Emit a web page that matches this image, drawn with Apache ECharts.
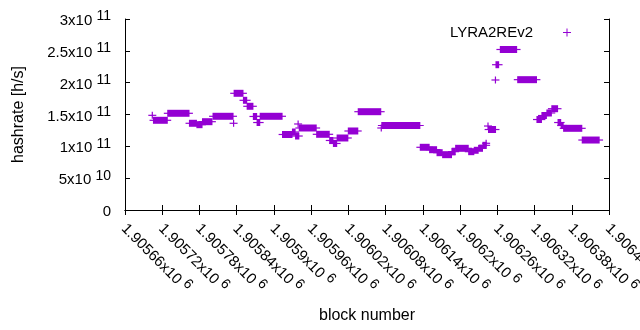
<!DOCTYPE html>
<html>
<head>
<meta charset="utf-8">
<script src="https://cdn.jsdelivr.net/npm/echarts@6/dist/echarts.min.js"></script>
<style>
    html, body { margin: 0; padding: 0; background: #fff; }
    #chart { width: 640px; height: 330px; }
</style>
</head>
<body>
<div id="chart"></div>
<script>
// block ranges, each with one hashrate value (h/s)
var segStart = [1905704, 1905706, 1905729, 1905764, 1905776, 1905785, 1905802, 1905835, 1905836, 1905851,
    1905857, 1905867, 1905873, 1905878, 1905914, 1905930, 1905935, 1905939, 1905941, 1905969,
    1905990, 1905996, 1906002, 1906020, 1906036, 1906073, 1906074, 1906136, 1906151, 1906163,
    1906172, 1906187, 1906193, 1906214, 1906223, 1906230, 1906237, 1906242, 1906245, 1906246,
    1906257, 1906258, 1906265, 1906293, 1906324, 1906332, 1906340, 1906348, 1906358, 1906363,
    1906367, 1906397];
var segEnd = [1905704, 1905728, 1905763, 1905775, 1905784, 1905800, 1905834, 1905835, 1905850, 1905856,
    1905866, 1905872, 1905877, 1905913, 1905929, 1905934, 1905940, 1905939, 1905968, 1905989,
    1905995, 1906001, 1906019, 1906035, 1906072, 1906073, 1906135, 1906150, 1906162, 1906171,
    1906186, 1906192, 1906213, 1906222, 1906229, 1906236, 1906242, 1906242, 1906245, 1906257,
    1906257, 1906262, 1906291, 1906323, 1906331, 1906339, 1906347, 1906357, 1906362, 1906366,
    1906396, 1906424];
var segHash = [1.487e11, 1.409e11, 1.519e11, 1.362e11, 1.340e11, 1.387e11, 1.472e11, 1.362e11, 1.833e11, 1.723e11,
    1.629e11, 1.469e11, 1.374e11, 1.472e11, 1.186e11, 1.225e11, 1.162e11, 1.351e11, 1.288e11, 1.189e11,
    1.092e11, 1.045e11, 1.131e11, 1.241e11, 1.544e11, 1.288e11, 1.327e11, 0.985e11, 0.947e11, 0.900e11,
    0.869e11, 0.916e11, 0.969e11, 0.916e11, 0.938e11, 0.969e11, 1.016e11, 1.048e11, 1.319e11, 1.264e11,
    2.042e11, 2.282e11, 2.521e11, 2.047e11, 1.421e11, 1.484e11, 1.524e11, 1.591e11, 1.374e11, 1.327e11,
    1.283e11, 1.099e11];

var xMin = 1905660, xMax = 1906440, xStep = 60;
var yMin = 0, yMax = 3e11, yStep = 5e10;
var seriesName = 'LYRA2REv2';
var color = '#9400d3';
var font = 'Liberation Sans';

var chart = echarts.init(document.getElementById('chart'));

var data = [];
for (var i = 0; i < segStart.length; i++) {
    data.push([segStart[i], segEnd[i], segHash[i]]);
}

// "2.5x10 11" style tick text, exponent raised
function sci(v) {
    if (v === 0) return '{m|0}';
    var e = Math.floor(Math.log10(v) + 1e-9);
    var m = +(v / Math.pow(10, e)).toFixed(5);
    return '{m|' + m + 'x10 }{s|' + e + '}';
}

var rich = {
    m: { fontFamily: font, fontSize: 15, color: '#000', lineHeight: 19, verticalAlign: 'bottom' },
    s: { fontFamily: font, fontSize: 14, color: '#000', lineHeight: 19, verticalAlign: 'top' }
};

// plus markers packed along each block range
function renderSeg(params, api) {
    var p0 = api.coord([api.value(0), api.value(2)]);
    var p1 = api.coord([api.value(1), api.value(2)]);
    var w = p1[0] - p0[0];
    return {
        type: 'group',
        children: [
            { type: 'rect', shape: { x: p0[0] - 0.6, y: p0[1] - 3.5, width: w + 1.2, height: 7 },
              style: { fill: color } },
            { type: 'rect', shape: { x: p0[0] - 4, y: p0[1] - 0.6, width: w + 8, height: 1.2 },
              style: { fill: color } }
        ]
    };
}

var tickStyle = { show: true, inside: true, length: 5, lineStyle: { color: '#000', width: 1 } };
var lineStyle = { show: true, lineStyle: { color: '#000', width: 1 } };

var option = {
    animation: false,
    grid: { left: 125, right: 31, top: 19, bottom: 120, outerBoundsMode: 'none', containLabel: false },
    legend: {
        data: [{ name: seriesName, icon: 'path://M3.5,0h1v3.5h3.5v1h-3.5v3.5h-1v-3.5h-3.5v-1h3.5z' }],
        right: 64, top: 20,
        align: 'right',
        itemWidth: 8, itemHeight: 8,
        textStyle: { fontFamily: font, fontSize: 15, color: '#000', padding: [0, 25, 0, 0] }
    },
    xAxis: [{
        type: 'value', min: xMin, max: xMax, interval: xStep,
        name: 'block number', nameLocation: 'middle', nameGap: 98,
        nameTextStyle: { fontFamily: font, fontSize: 16, color: '#000' },
        axisLine: lineStyle, axisTick: tickStyle, splitLine: { show: false },
        axisLabel: {
            rotate: -45, margin: 15, interval: 0, showMaxLabel: true, showMinLabel: true,
            formatter: function (v) {
                return '{m|' + +(v / 1e6).toFixed(5) + 'x10 }{s|6}';
            },
            rich: rich
        }
    }, {
        type: 'value', position: 'top', min: xMin, max: xMax, interval: xStep,
        axisLine: lineStyle, axisTick: tickStyle, splitLine: { show: false },
        axisLabel: { show: false }
    }],
    yAxis: [{
        type: 'value', min: yMin, max: yMax, interval: yStep,
        name: 'hashrate [h/s]', nameLocation: 'middle', nameGap: 98,
        nameTextStyle: { fontFamily: font, fontSize: 16, color: '#000' },
        axisLine: lineStyle, axisTick: tickStyle, splitLine: { show: false },
        axisLabel: { margin: 14, formatter: sci, rich: rich }
    }, {
        type: 'value', position: 'right', min: yMin, max: yMax, interval: yStep,
        axisLine: lineStyle, axisTick: tickStyle, splitLine: { show: false },
        axisLabel: { show: false }
    }],
    series: [{
        name: seriesName,
        type: 'custom',
        renderItem: renderSeg,
        itemStyle: { color: color },
        encode: { x: [0, 1], y: 2 },
        clip: true,
        data: data
    }]
};

chart.setOption(option);
</script>
</body>
</html>
